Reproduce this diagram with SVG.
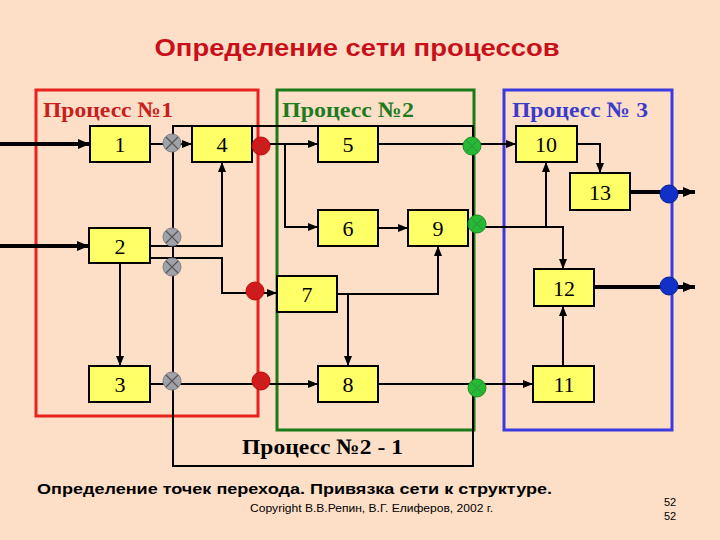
<svg xmlns="http://www.w3.org/2000/svg" width="720" height="540" viewBox="0 0 720 540">
<defs>
<marker id="arr" markerUnits="userSpaceOnUse" markerWidth="10" markerHeight="10" viewBox="0 0 10 10" refX="10" refY="5" orient="auto">
<path d="M0,1 L10,5 L0,9 Z" fill="#000"/>
</marker>
<marker id="arrT" markerUnits="userSpaceOnUse" markerWidth="12" markerHeight="12" viewBox="0 0 12 12" refX="12" refY="6" orient="auto">
<path d="M0,1 L12,6 L0,11 Z" fill="#000"/>
</marker>
<g id="xmark"><path d="M-6,-6 L6,6 M6,-6 L-6,6" stroke="#555" stroke-width="1.2"/></g>
</defs>
<style>
.frame{fill:none;stroke-width:3}
.box rect{fill:#FFFF66;stroke:#000;stroke-width:2}
.box text{font-family:"Liberation Serif",serif;font-size:22px;text-anchor:middle;fill:#000}
.plabel{font-family:"Liberation Serif",serif;font-size:22px;font-weight:bold}
.c{fill:none;stroke:#000;stroke-width:2}
.ct{fill:none;stroke:#000;stroke-width:4}
.g{fill:#A0A2AA;stroke:#808088;stroke-width:1}
.r{fill:#D81818;stroke:#B01010;stroke-width:1}
.gr{fill:#22BB33;stroke:#189020;stroke-width:1}
.b{fill:#1030C8;stroke:#0820A0;stroke-width:1}
</style>
<rect x="0" y="0" width="720" height="540" fill="#FDDFC8"/>
<text x="357" y="56" text-anchor="middle" font-family="Liberation Sans, sans-serif" font-size="24" font-weight="bold" fill="#C8101A" textLength="405" lengthAdjust="spacingAndGlyphs">Определение сети процессов</text>

<g id="frames">
<rect class="frame" x="36" y="90" width="222" height="326" stroke="#E8221C"/>
<rect class="frame" x="277" y="90" width="197" height="340" stroke="#1A7A1A"/>
<rect class="frame" x="504" y="90" width="168" height="340" stroke="#3A3AE0"/>
<text class="plabel" x="43" y="117" fill="#C8201C" textLength="130" lengthAdjust="spacingAndGlyphs">Процесс №1</text>
<text class="plabel" x="282" y="117" fill="#1E7B1E" textLength="132" lengthAdjust="spacingAndGlyphs">Процесс №2</text>
<text class="plabel" x="512" y="117" fill="#3B3BCC" textLength="136" lengthAdjust="spacingAndGlyphs">Процесс № 3</text>
<text class="plabel" x="242" y="454" fill="#000" textLength="161" lengthAdjust="spacingAndGlyphs">Процесс №2 - 1</text>
</g>

<g id="connectors">
<path class="c" d="M173,126 H473 V466 H173 Z"/>
<path class="ct" d="M0,144 H90" marker-end="url(#arrT)"/>
<path class="ct" d="M0,246 H89" marker-end="url(#arrT)"/>
<path class="c" d="M150,144 H192" marker-end="url(#arr)"/>
<path class="c" d="M252,144 H318" marker-end="url(#arr)"/>
<path class="c" d="M285,144 V227 H318" marker-end="url(#arr)"/>
<path class="c" d="M150,246 H222 V162" marker-end="url(#arr)"/>
<path class="c" d="M150,258 H222 V293 H277" marker-end="url(#arr)"/>
<path class="c" d="M120,263 V366" marker-end="url(#arr)"/>
<path class="c" d="M150,384 H318" marker-end="url(#arr)"/>
<path class="c" d="M378,228 H408" marker-end="url(#arr)"/>
<path class="c" d="M337,294 H438 V246" marker-end="url(#arr)"/>
<path class="c" d="M348,294 V366" marker-end="url(#arr)"/>
<path class="c" d="M378,144 H516" marker-end="url(#arr)"/>
<path class="c" d="M468,227 H563 V269" marker-end="url(#arr)"/>
<path class="c" d="M546,227 V162" marker-end="url(#arr)"/>
<path class="c" d="M577,144 H600 V173" marker-end="url(#arr)"/>
<path class="ct" d="M630,192 H695" marker-end="url(#arrT)"/>
<path class="ct" d="M594,287 H695" marker-end="url(#arrT)"/>
<path class="c" d="M378,384 H533" marker-end="url(#arr)"/>
<path class="c" d="M563,366 V306" marker-end="url(#arr)"/>
</g>

<g id="node-1" class="box"><rect x="90" y="126" width="60" height="36"/><text x="120" y="152">1</text></g>
<g id="node-4" class="box"><rect x="192" y="126" width="60" height="36"/><text x="222" y="152">4</text></g>
<g id="node-5" class="box"><rect x="318" y="126" width="60" height="36"/><text x="348" y="152">5</text></g>
<g id="node-10" class="box"><rect x="516" y="126" width="61" height="36"/><text x="546" y="152">10</text></g>
<g id="node-13" class="box"><rect x="570" y="173" width="60" height="37"/><text x="600" y="200">13</text></g>
<g id="node-2" class="box"><rect x="89" y="228" width="61" height="35"/><text x="120" y="254">2</text></g>
<g id="node-6" class="box"><rect x="318" y="210" width="60" height="36"/><text x="348" y="236">6</text></g>
<g id="node-9" class="box"><rect x="408" y="210" width="60" height="36"/><text x="438" y="236">9</text></g>
<g id="node-7" class="box"><rect x="277" y="276" width="60" height="36"/><text x="307" y="302">7</text></g>
<g id="node-12" class="box"><rect x="534" y="269" width="60" height="37"/><text x="564" y="296">12</text></g>
<g id="node-3" class="box"><rect x="89" y="366" width="61" height="36"/><text x="120" y="392">3</text></g>
<g id="node-8" class="box"><rect x="318" y="366" width="60" height="36"/><text x="348" y="392">8</text></g>
<g id="node-11" class="box"><rect x="533" y="366" width="61" height="36"/><text x="564" y="392">11</text></g>

<g id="junction-g1"><circle class="g" cx="172" cy="143" r="9"/><use href="#xmark" x="172" y="143"/></g>
<g id="junction-g2"><circle class="g" cx="172" cy="237" r="9"/><use href="#xmark" x="172" y="237"/></g>
<g id="junction-g3"><circle class="g" cx="172" cy="267" r="9"/><use href="#xmark" x="172" y="267"/></g>
<g id="junction-g4"><circle class="g" cx="172" cy="381" r="9"/><use href="#xmark" x="172" y="381"/></g>
<g id="junction-r1"><circle class="r" cx="261" cy="146" r="9"/><use href="#xmark" x="261" y="146" opacity="0.3"/></g>
<g id="junction-r2"><circle class="r" cx="255" cy="291" r="9"/><use href="#xmark" x="255" y="291" opacity="0.3"/></g>
<g id="junction-r3"><circle class="r" cx="261" cy="381" r="9"/><use href="#xmark" x="261" y="381" opacity="0.3"/></g>
<g id="junction-gr1"><circle class="gr" cx="472" cy="146" r="9"/><use href="#xmark" x="472" y="146" opacity="0.3"/></g>
<g id="junction-gr2"><circle class="gr" cx="477" cy="224" r="9"/><use href="#xmark" x="477" y="224" opacity="0.3"/></g>
<g id="junction-gr3"><circle class="gr" cx="477" cy="388" r="9"/><use href="#xmark" x="477" y="388" opacity="0.3"/></g>
<g id="junction-b1"><circle class="b" cx="669" cy="194" r="9"/></g>
<g id="junction-b2"><circle class="b" cx="669" cy="286" r="9"/></g>

<text x="37" y="494" font-family="Liberation Sans, sans-serif" font-size="15" font-weight="bold" fill="#000" textLength="515" lengthAdjust="spacingAndGlyphs">Определение точек перехода. Привязка сети к структуре.</text>
<text x="250" y="512" font-family="Liberation Sans, sans-serif" font-size="11" fill="#000" textLength="243" lengthAdjust="spacingAndGlyphs">Copyright В.В.Репин, В.Г. Елиферов, 2002 г.</text>
<text x="670" y="506" text-anchor="middle" font-family="Liberation Sans, sans-serif" font-size="11" fill="#000">52</text>
<text x="670" y="520" text-anchor="middle" font-family="Liberation Sans, sans-serif" font-size="11" fill="#000">52</text>
</svg>
